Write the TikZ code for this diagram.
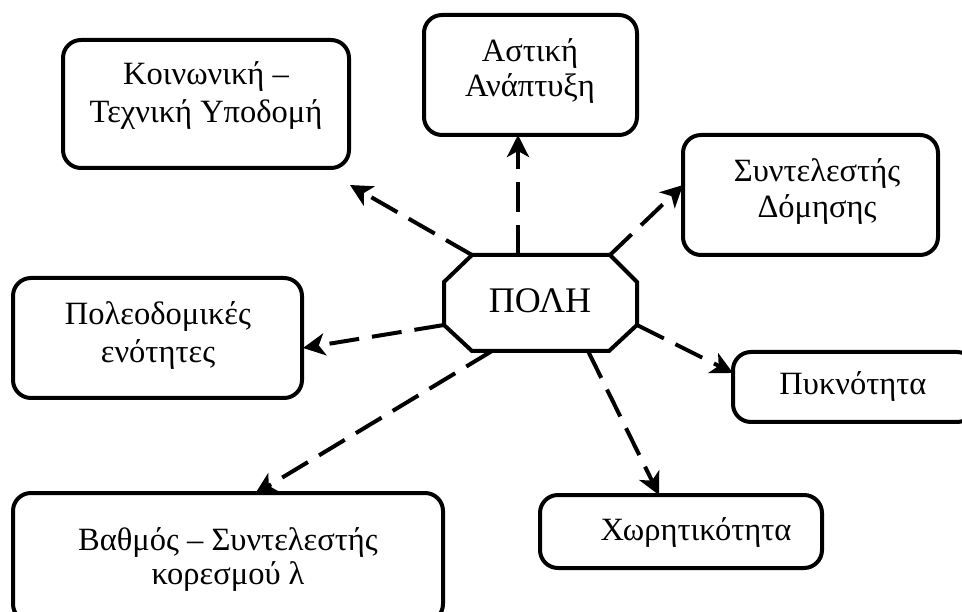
\documentclass[tikz,border=0pt]{standalone}
\usepackage{fontspec}
\setmainfont{Liberation Serif}
\usetikzlibrary{arrows.meta,calc}
\tikzset{
  rbox/.style 2 args={draw, line width=4pt, rounded corners=18pt, inner sep=0pt,
    minimum width=#1, minimum height=#2},
  lbl/.style={anchor=base, align=center, inner sep=0pt,
    font=\fontsize{32.5}{37}\selectfont},
  link/.style={line width=4pt, dash pattern=on 30pt off 13pt,
    -{Stealth[length=22pt,width=22pt,inset=6pt]}},
}
\begin{document}
\begin{tikzpicture}[x=1pt,y=-1pt]
\useasboundingbox (0,0) rectangle (962,612);
% boxes
\node[rbox={286pt}{128pt}] (b1) at (206,104) {};
\node[rbox={213pt}{120pt}] (b2) at (530.5,75) {};
\node[rbox={255pt}{120pt}] (b3) at (810.5,195) {};
\node[rbox={289pt}{120pt}] (b4) at (157.5,338) {};
\node[rbox={242pt}{70pt}] (b5) at (854,387) {};
\node[rbox={282pt}{73pt}] (b6) at (681,531.5) {};
\node[rbox={430pt}{129pt}] (b7) at (228,557.5) {};
% labels (base = baseline of the last line)
\node[lbl, font=\fontsize{32.5}{38}\selectfont] (t1) at (206,123) {Κοινωνική –\\Τεχνική Υποδομή};
\node[lbl, font=\fontsize{32.5}{35}\selectfont] (t2) at (530,97) {Αστική\\Ανάπτυξη};
\node[lbl, font=\fontsize{32.5}{36}\selectfont] (t3) at (817,218) {Συντελεστής\\Δόμησης};
\node[lbl, font=\fontsize{32.5}{38}\selectfont] (t4) at (158,363) {Πολεοδομικές\\ενότητες};
\node[lbl] (t5) at (853,395) {Πυκνότητα};
\node[lbl] (t6) at (696,540) {Χωρητικότητα};
\node[lbl, font=\fontsize{32.5}{34}\selectfont] (t7) at (228,584) {Βαθμός – Συντελεστής\\κορεσμού λ};
% central octagon
\coordinate (o1) at (472,255);
\coordinate (o2) at (610,255);
\coordinate (o3) at (637,282);
\coordinate (o4) at (637,325);
\coordinate (o5) at (609,351);
\coordinate (o6) at (472,351);
\coordinate (o7) at (444,325);
\coordinate (o8) at (444,282);
\draw[line width=4pt, line join=miter] (o1) -- (o2) -- (o3) -- (o4) -- (o5) -- (o6) -- (o7) -- (o8) -- cycle;
\node[anchor=base, inner sep=0pt, font=\fontsize{36}{40}\selectfont] (polh) at (540,313) {ΠΟΛΗ};
\coordinate (otop) at (518,255);
\coordinate (obotR) at (588,351);
\coordinate (obotL) at (492,351);
% arrow tips
\coordinate (e1) at (350,185);
\coordinate (e2) at (518,135);
\coordinate (e3) at (683,185);
\coordinate (e4) at (303,348);
\coordinate (e5) at (733,373);
\coordinate (e6) at (659,495);
\coordinate (e7) at (255,494);
% connectors
\draw[link] (o1) -- (e1);
\draw[link] (otop) -- (e2);
\draw[link] (o2) -- (e3);
\draw[link] (o7) -- (e4);
\draw[link] (o4) -- (e5);
\draw[link] (obotR) -- (e6);
\draw[link] (obotL) -- (e7);
\end{tikzpicture}
\end{document}
